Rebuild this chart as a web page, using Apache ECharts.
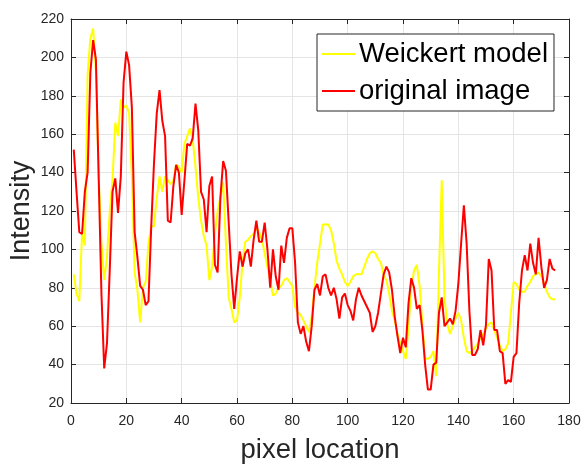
<!DOCTYPE html>
<html>
<head>
<meta charset="utf-8">
<script src="https://cdn.jsdelivr.net/npm/echarts@6/dist/echarts.min.js"></script>
<style>
  html, body { margin: 0; padding: 0; background: #fff; }
  #chart { width: 583px; height: 464px; }
</style>
</head>
<body>
<div id="chart"></div>
<script>
// Pixel positions along the profile (1..175)
const pixelLocation = Array.from({ length: 175 }, (_, i) => i + 1);

// Intensity profile of the original image
const originalImage = [
  152, 130, 109, 108, 130, 140, 192, 209, 199, 138,
  77, 38, 51, 89, 130, 137, 119, 138, 187, 203,
  196, 174, 109, 96, 81, 79, 71, 73, 112, 145,
  171, 183, 167, 159, 115, 114, 133, 144, 140, 118,
  136, 155, 154, 158, 176, 162, 130, 126, 109, 133,
  138, 92, 88, 127, 146, 141, 114, 87, 69, 85,
  99, 91, 98, 100, 91, 105, 115, 104, 104, 114,
  100, 80, 100, 86, 79, 102, 93, 106, 111, 111,
  93, 62, 56, 60, 52, 47, 60, 79, 82, 76,
  86, 87, 80, 76, 80, 74, 64, 75, 77, 71,
  68, 63, 74, 80, 76, 73, 70, 67, 57, 60,
  67, 77, 87, 91, 88, 79, 65, 55, 46, 54,
  49, 72, 85, 80, 69, 71, 58, 40, 27, 27,
  40, 41, 67, 75, 60, 62, 64, 61, 68, 82,
  103, 123, 103, 68, 45, 45, 48, 58, 50, 61,
  95, 89, 58, 58, 47, 46, 30, 32, 31, 44,
  46, 72, 89, 97, 89, 103, 93, 87, 106, 91,
  80, 84, 95, 90, 89
];

// Intensity profile produced by the Weickert diffusion model
const weickertModel = [
  87, 77, 73, 108, 102, 191, 210, 215, 193, 138,
  103, 84, 96, 120, 136, 166, 159, 178, 174, 175,
  171, 138, 88, 79, 62, 80, 83, 103, 112, 112,
  127, 138, 130, 138, 136, 134, 136, 144, 143, 140,
  155, 159, 163, 157, 143, 127, 115, 107, 102, 84,
  91, 108, 120, 127, 135, 103, 75, 69, 62, 63,
  75, 93, 104, 105, 107, 108, 111, 109, 105, 98,
  91, 84, 76, 77, 80, 81, 84, 85, 83, 81,
  70, 67, 66, 63, 60, 57, 65, 80, 93, 103,
  113, 113, 113, 110, 103, 94, 90, 87, 83, 81,
  83, 86, 87, 87, 87, 91, 95, 98, 99, 98,
  95, 93, 87, 84, 77, 68, 63, 56, 51, 47,
  43, 60, 80, 89, 92, 81, 61, 43, 43, 44,
  47, 34, 88, 136, 75, 61, 56, 60, 64, 67,
  63, 54, 47, 46, 47, 49, 51, 54, 56, 59,
  61, 62, 58, 54, 50, 47, 48, 51, 67, 83,
  82, 79, 78, 78, 81, 83, 86, 87, 88, 86,
  82, 78, 75, 74, 74
];

const xTicks = { min: 0, max: 180, interval: 20 };
const yTicks = { min: 20, max: 220, interval: 20 };

const FONT = '"Liberation Sans", Arial, Helvetica, sans-serif';
const AXIS_COLOR = '#262626';
const GRID_COLOR = '#e5e5e5';

const chart = echarts.init(document.getElementById('chart'), null, { renderer: 'canvas' });

const pairs = (ys) => pixelLocation.map((x, i) => [x, ys[i]]);

// Shared look of all four box sides: dark line with short inward ticks
const baseAxis = {
  type: 'value',
  axisLine: { show: true, onZero: false, lineStyle: { color: AXIS_COLOR, width: 1 } },
  axisTick: { show: true, inside: true, length: 5, lineStyle: { color: AXIS_COLOR } },
  splitLine: { show: false },
  axisLabel: { show: false }
};

chart.setOption({
  animation: false,
  backgroundColor: '#ffffff',
  grid: { left: 71, right: 14, top: 19, bottom: 61, containLabel: false, outerBoundsMode: 'none' },
  legend: {
    orient: 'vertical',
    left: 317,
    top: 34,
    padding: [6, 6, 6, 5],
    itemGap: 9,
    itemWidth: 33,
    itemHeight: 2,
    icon: 'rect',
    backgroundColor: '#ffffff',
    borderColor: AXIS_COLOR,
    borderWidth: 1,
    borderRadius: 0,
    textStyle: { fontFamily: FONT, fontSize: 27.5, color: '#000000', padding: [0, 0, 0, -1] },
    data: ['Weickert model', 'original image']
  },
  xAxis: [
    Object.assign({}, baseAxis, {
      position: 'bottom',
      min: xTicks.min, max: xTicks.max, interval: xTicks.interval,
      name: 'pixel location',
      nameLocation: 'middle',
      nameGap: 33,
      nameTextStyle: { fontFamily: FONT, fontSize: 27.5, color: AXIS_COLOR },
      axisLabel: { show: true, margin: 11, fontFamily: FONT, fontSize: 14, color: AXIS_COLOR },
      splitLine: { show: true, lineStyle: { color: GRID_COLOR, width: 1 } }
    }),
    Object.assign({}, baseAxis, {
      position: 'top',
      min: xTicks.min, max: xTicks.max, interval: xTicks.interval
    })
  ],
  yAxis: [
    Object.assign({}, baseAxis, {
      position: 'left',
      min: yTicks.min, max: yTicks.max, interval: yTicks.interval,
      name: 'Intensity',
      nameLocation: 'middle',
      nameGap: 36,
      nameMoveOverlap: false,
      nameTextStyle: { fontFamily: FONT, fontSize: 27, color: AXIS_COLOR },
      axisLabel: { show: true, margin: 7, fontFamily: FONT, fontSize: 14, color: AXIS_COLOR },
      splitLine: { show: true, lineStyle: { color: GRID_COLOR, width: 1 } }
    }),
    Object.assign({}, baseAxis, {
      position: 'right',
      min: yTicks.min, max: yTicks.max, interval: yTicks.interval
    })
  ],
  series: [
    {
      name: 'Weickert model',
      type: 'line',
      data: pairs(weickertModel),
      showSymbol: false,
      symbol: 'none',
      color: '#ffff00',
      lineStyle: { color: '#ffff00', width: 2 },
      z: 2
    },
    {
      name: 'original image',
      type: 'line',
      data: pairs(originalImage),
      showSymbol: false,
      symbol: 'none',
      color: '#ff0000',
      lineStyle: { color: '#ff0000', width: 2 },
      z: 3
    }
  ]
});
</script>
</body>
</html>
